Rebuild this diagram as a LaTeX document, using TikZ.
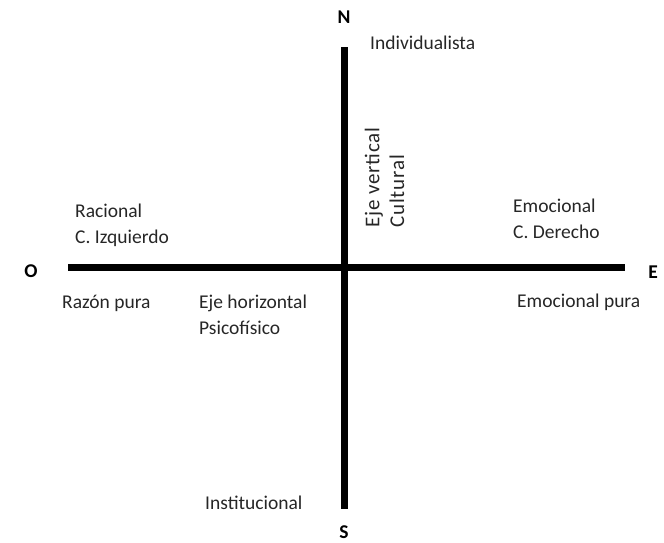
\documentclass[tikz,border=0pt]{standalone}
\usepackage{fontspec}
\setmainfont{Carlito}
\begin{document}
\begin{tikzpicture}[x=1pt,y=-1pt,
  axis/.style={line width=7pt},
  lbl/.style={inner sep=0pt,anchor=base west,font=\fontsize{19.5}{27}\selectfont,text=black!85},
  pole/.style={inner sep=0pt,anchor=base,font=\fontsize{19.5}{27}\selectfont\bfseries},
  vlbl/.style={inner sep=0pt,anchor=west,rotate=90,font=\fontsize{21}{27}\selectfont\addfontfeature{LetterSpace=4},text=black!85}]
\useasboundingbox (0,0) rectangle (664,542);
\coordinate (ntop) at (344,47);
\coordinate (sbot) at (344,509);
\coordinate (wend) at (68,267);
\coordinate (eend) at (625,267);
\draw[axis] (ntop) -- (sbot);
\draw[axis] (wend) -- (eend);
\node[pole] (N) at (344,23) {N};
\node[pole] (S) at (344,538) {S};
\node[pole] (O) at (31,277) {O};
\node[pole] (E) at (653,278) {E};
\node[lbl] (ind) at (370,49) {Individualista};
\node[lbl] (rac) at (75,217) {Racional};
\node[lbl] (ciz) at (75,243) {C. Izquierdo};
\node[lbl] (raz) at (62,308) {Razón pura};
\node[lbl] (ejh) at (199,308) {Eje horizontal};
\node[lbl] (psi) at (199,334) {Psicofísico};
\node[lbl] (emo) at (513,212) {Emocional};
\node[lbl] (cde) at (513,238) {C. Derecho};
\node[lbl] (emp) at (517,307) {Emocional pura};
\node[lbl] (ins) at (205,509) {Institucional};
\node[vlbl] (ejv) at (374,228) {Eje vertical};
\node[vlbl] (cul) at (397,228) {Cultural};
\end{tikzpicture}
\end{document}
